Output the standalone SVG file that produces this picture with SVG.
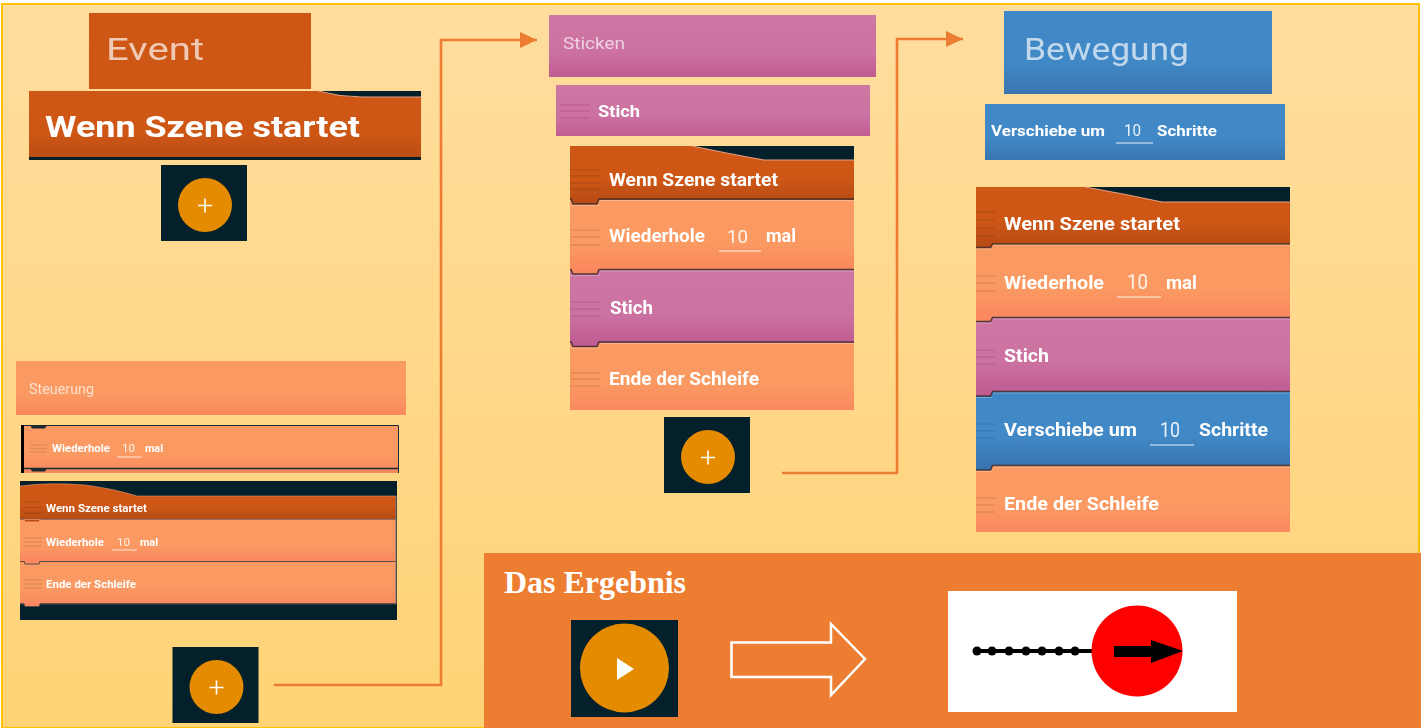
<svg xmlns="http://www.w3.org/2000/svg" width="1426" height="728" viewBox="0 0 1426 728">
<defs>
<linearGradient id="bg" x1="0" y1="0" x2="0" y2="1"><stop offset="0" stop-color="#FFDD9E"/><stop offset="1" stop-color="#FFD376"/></linearGradient>
<linearGradient id="or" x1="0" y1="0" x2="0" y2="1"><stop offset="0" stop-color="#FA9A62"/><stop offset=".6" stop-color="#FA9A62"/><stop offset="1" stop-color="#FA885E"/></linearGradient>
<linearGradient id="br" x1="0" y1="0" x2="0" y2="1"><stop offset="0" stop-color="#CF5716"/><stop offset=".6" stop-color="#CF5716"/><stop offset="1" stop-color="#B84C14"/></linearGradient>
<linearGradient id="pk" x1="0" y1="0" x2="0" y2="1"><stop offset="0" stop-color="#CE76A4"/><stop offset=".6" stop-color="#CC72A2"/><stop offset="1" stop-color="#C05C92"/></linearGradient>
<linearGradient id="bl" x1="0" y1="0" x2="0" y2="1"><stop offset="0" stop-color="#4189C6"/><stop offset=".6" stop-color="#4189C6"/><stop offset="1" stop-color="#3875B0"/></linearGradient>
<filter id="s" x="-5%" y="-20%" width="110%" height="140%"><feGaussianBlur stdDeviation="0.4"/></filter>
<filter id="s2" x="-5%" y="-5%" width="110%" height="110%"><feGaussianBlur stdDeviation="0.7"/></filter>
<g id="plus"><rect x="-44" y="-40" width="86" height="76" fill="#03202B"/><circle r="27" fill="#E58B00"/><path d="M-7 0.500H7M0 -6.500V7.500" stroke="#FFF" stroke-width="1.600" fill="none"/></g>
<marker id="ah" markerUnits="userSpaceOnUse" markerWidth="18" markerHeight="16" refX="17" refY="8" orient="auto"><path d="M0 0L17 8L0 16Z" fill="#ED7D31"/></marker>
</defs>
<style>
text{font-family:Roboto,"Liberation Sans",sans-serif;fill:#FFF;filter:url(#s)}
.b{font-weight:700}
.h{fill:#FFF;fill-opacity:.68}
.n{fill:#FFF;fill-opacity:.88}
.u{stroke:#FFF;stroke-opacity:.6;stroke-width:1.300;fill:none}
.g{stroke:#000;stroke-opacity:.1;stroke-width:1.300;fill:none}
.e{stroke:#3A2A2A;stroke-opacity:.85;stroke-width:1.500;fill:none}
.l{stroke:#FFF;stroke-opacity:.25;stroke-width:1;fill:none}
.c{stroke:#ED7D31;stroke-width:2.600;fill:none}
</style>
<rect x="2" y="4" width="1417" height="724" fill="url(#bg)" stroke="#FFC000" stroke-width="2"/>

<g id="connectors">
<path class="c" d="M274 685H441V40H537" marker-end="url(#ah)"/>
<path class="c" d="M782 473H897V39H963" marker-end="url(#ah)"/>
</g>

<g id="event-header"><rect x="89" y="13" width="222" height="76" fill="#CF5716"/><text class="h" x="106" y="60" font-size="32" textLength="98" lengthAdjust="spacingAndGlyphs">Event</text></g>
<g id="event-block">
<rect x="29" y="91" width="392" height="69" fill="url(#br)"/>
<path d="M318 91Q340 97 362 97H421V91Z" fill="#03202B"/>
<path d="M318 91Q340 97 362 97H421" stroke="#E8A080" fill="none"/>
<rect x="29" y="157" width="392" height="3" fill="#03202B"/>
<text class="b" x="45" y="137" font-size="30" textLength="315" lengthAdjust="spacingAndGlyphs">Wenn Szene startet</text>
</g>
<g id="add-event"><use href="#plus" x="205" y="205"/></g>

<g id="steuerung-header"><rect x="16" y="361" width="390" height="54" fill="url(#or)"/><text class="h" x="29" y="394" font-size="14" textLength="65" lengthAdjust="spacingAndGlyphs">Steuerung</text></g>
<g id="steuerung-block">
<rect x="24" y="425" width="374.500" height="48" fill="url(#or)"/>
<path d="M22.500 425V473" stroke="#000" stroke-width="3"/>
<path d="M24 425.500H398.500V473" stroke="#1A2A30" stroke-width="1" fill="none"/>
<path d="M24 468.500H398" stroke="#1A2A30" stroke-width="1.500" fill="none"/>
<path d="M30 425l2 3.500h13l2 -3.500zM30 468l2 3.500h13l2 -3.500z" fill="#1A2A30"/>
<path class="g" d="M30 445H47M30 448.500H47M30 452H47"/>
<text class="b" x="52" y="452" font-size="11" textLength="58" lengthAdjust="spacingAndGlyphs">Wiederhole</text>
<text class="n" x="122" y="452" font-size="11.500" textLength="13" lengthAdjust="spacingAndGlyphs">10</text>
<path class="u" d="M117 457H142"/>
<text class="b" x="145" y="452" font-size="11" textLength="18" lengthAdjust="spacingAndGlyphs">mal</text>
</g>
<g id="stack-small">
<rect x="20" y="481" width="377" height="139" fill="#03202B"/>
<path d="M20 486Q50 482 85 485Q115 489 137 496H396V519H20Z" fill="url(#br)"/>
<path d="M20 486Q50 482 85 485Q115 489 137 496H396" stroke="#E8A080" stroke-opacity=".55" fill="none"/>
<rect x="20" y="520" width="376" height="41" fill="url(#or)"/>
<rect x="20" y="562" width="376" height="41.500" fill="url(#or)"/>
<path d="M24 518h16l-1 3.500h-14z" fill="#B84C14"/>
<path d="M24 560h16l-1 3.500h-14z" fill="#FA885E"/>
<path d="M24 603h16l-1 3.500h-14z" fill="#FA885E"/>
<path d="M20 519.500H396" stroke="#F0A890" stroke-opacity=".6"/>
<path d="M20 561.500H24L25 564H39L40 561.500H396M20 604H24L25 606.500H39L40 604H396" stroke="#5A4A4A" stroke-width="1" fill="none"/>
<path d="M396 496V604" stroke="#8A7A70"/>
<path class="g" d="M24 502H42M24 507.500H42M24 513H42M24 538H42M24 542H42M24 546H42M24 580H42M24 584H42M24 588H42"/>
<text class="b" x="46" y="512" font-size="11" textLength="101" lengthAdjust="spacingAndGlyphs">Wenn Szene startet</text>
<text class="b" x="46" y="546" font-size="11" textLength="58" lengthAdjust="spacingAndGlyphs">Wiederhole</text>
<text class="n" x="117" y="546" font-size="11.500" textLength="13" lengthAdjust="spacingAndGlyphs">10</text>
<path class="u" d="M112 550H137"/>
<text class="b" x="140" y="546" font-size="11" textLength="18" lengthAdjust="spacingAndGlyphs">mal</text>
<text class="b" x="46" y="588" font-size="11" textLength="90" lengthAdjust="spacingAndGlyphs">Ende der Schleife</text>
</g>
<g id="add-steuerung"><use href="#plus" x="216.500" y="687"/></g>

<g id="sticken-header"><rect x="549" y="15" width="327" height="62" fill="url(#pk)"/><text class="h" x="563" y="49" font-size="17" textLength="62" lengthAdjust="spacingAndGlyphs">Sticken</text></g>
<g id="stich-block"><rect x="556" y="85" width="314" height="51" fill="url(#pk)"/><path d="M560 105H590M560 111H590M560 118H590" stroke="#A83A78" stroke-opacity=".45" fill="none"/><text class="b" x="598" y="117" font-size="17" textLength="42" lengthAdjust="spacingAndGlyphs">Stich</text></g>
<g id="stack-middle">
<rect x="570" y="146" width="284" height="15" fill="#03202B"/>
<path d="M570 146H692Q730 154 764 160H854V200H570Z" fill="url(#br)"/>
<path d="M692 146Q730 154 764 160H854" stroke="#E8A080" fill="none" stroke-width="1.200"/>
<rect x="570" y="200" width="284" height="70" fill="url(#or)"/>
<rect x="570" y="270" width="284" height="73" fill="url(#pk)"/>
<rect x="570" y="343" width="284" height="67" fill="url(#or)"/>
<path d="M571 199L573 204H597L599 199Z" fill="#B84C14"/>
<path d="M571 270L573 274H597L599 270Z" fill="#FA885E"/>
<path d="M571 342L573 347H597L599 342Z" fill="#C05C92"/>
<path class="e" d="M570 199H571L573 204H597L599 199H854M570 269.500H571L573 274H597L599 269.500H854M570 342H571L573 346.500H597L599 342H854"/>
<path class="l" d="M570 205.500H600M600 200.500H854M570 275.500H600M600 271H854M570 348H600M600 343.500H854"/>
<path class="g" d="M570 170H600M570 176H600M570 183H600M570 189H600M570 230H600M570 237H600M570 245H600M570 302H600M570 309H600M570 316H600M570 373H600M570 379H600M570 386H600"/>
<text class="b" x="609" y="186" font-size="18" textLength="169" lengthAdjust="spacingAndGlyphs">Wenn Szene startet</text>
<text class="b" x="609" y="242" font-size="18" textLength="96" lengthAdjust="spacingAndGlyphs">Wiederhole</text>
<text class="n" x="727" y="243" font-size="19" textLength="21" lengthAdjust="spacingAndGlyphs">10</text>
<path class="u" d="M719 251H761"/>
<text class="b" x="766" y="242" font-size="18" textLength="30" lengthAdjust="spacingAndGlyphs">mal</text>
<text class="b" x="610" y="314" font-size="18" textLength="43" lengthAdjust="spacingAndGlyphs">Stich</text>
<text class="b" x="609" y="385" font-size="18" textLength="150" lengthAdjust="spacingAndGlyphs">Ende der Schleife</text>
</g>
<g id="add-sticken"><use href="#plus" x="708" y="457"/></g>

<g id="bewegung-header"><rect x="1004" y="11" width="268" height="83" fill="url(#bl)"/><text class="h" x="1024" y="60" font-size="32" textLength="165" lengthAdjust="spacingAndGlyphs">Bewegung</text></g>
<g id="verschiebe-block"><rect x="985" y="104" width="300" height="56" fill="url(#bl)"/>
<text class="b" x="991" y="136" font-size="15" textLength="114" lengthAdjust="spacingAndGlyphs">Verschiebe um</text>
<text class="n" x="1124" y="136" font-size="16" textLength="17" lengthAdjust="spacingAndGlyphs">10</text>
<path class="u" d="M1116 143H1153"/>
<text class="b" x="1157" y="136" font-size="15" textLength="60" lengthAdjust="spacingAndGlyphs">Schritte</text></g>
<g id="stack-right">
<rect x="976" y="187" width="314" height="15" fill="#03202B"/>
<path d="M976 187H1085Q1125 194 1162 202H1290V244H976Z" fill="url(#br)"/>
<path d="M1085 187Q1125 194 1162 202H1290" stroke="#E8A080" fill="none" stroke-width="1.200"/>
<rect x="976" y="244" width="314" height="73" fill="url(#or)"/>
<rect x="976" y="317" width="314" height="74.500" fill="url(#pk)"/>
<rect x="976" y="391.500" width="314" height="74" fill="url(#bl)"/>
<rect x="976" y="465.500" width="314" height="66.500" fill="url(#or)"/>
<path d="M976 243H993L991 247.500H976Z" fill="#B84C14"/>
<path d="M976 317H993L991 321.500H976Z" fill="#FA885E"/>
<path d="M976 391H993L991 396H976Z" fill="#C05C92"/>
<path d="M976 465H993L991 470H976Z" fill="#3875B0"/>
<path class="e" d="M976 247.500H990.500L992.500 244H1290M976 321.500H990.500L992.500 317.500H1290M976 396H990.500L992.500 391.500H1290M976 470H990.500L992.500 465.500H1290"/>
<path class="l" d="M976 249H992M993 245H1290M976 323H992M993 319H1290M976 397.500H992M993 393H1290M976 471.500H992M993 467H1290"/>
<path class="g" d="M976 212H995M976 220H995M976 228H995M976 236H995M976 276H995M976 283H995M976 291H995M976 350H995M976 357H995M976 364H995M976 424H995M976 431H995M976 438H995M976 498H995M976 505H995M976 512H995"/>
<text class="b" x="1004" y="230" font-size="18.500" textLength="176" lengthAdjust="spacingAndGlyphs">Wenn Szene startet</text>
<text class="b" x="1004" y="289" font-size="18.500" textLength="100" lengthAdjust="spacingAndGlyphs">Wiederhole</text>
<text class="n" x="1127" y="289" font-size="20" textLength="21" lengthAdjust="spacingAndGlyphs">10</text>
<path class="u" d="M1117 297H1161"/>
<text class="b" x="1166" y="289" font-size="18.500" textLength="31" lengthAdjust="spacingAndGlyphs">mal</text>
<text class="b" x="1004" y="362" font-size="18.500" textLength="45" lengthAdjust="spacingAndGlyphs">Stich</text>
<text class="b" x="1004" y="436" font-size="18.500" textLength="133" lengthAdjust="spacingAndGlyphs">Verschiebe um</text>
<text class="n" x="1160" y="437" font-size="20" textLength="20" lengthAdjust="spacingAndGlyphs">10</text>
<path class="u" d="M1150 445H1194"/>
<text class="b" x="1199" y="436" font-size="18.500" textLength="69" lengthAdjust="spacingAndGlyphs">Schritte</text>
<text class="b" x="1004" y="510" font-size="18.500" textLength="155" lengthAdjust="spacingAndGlyphs">Ende der Schleife</text>
</g>

<g id="ergebnis">
<rect x="484" y="553" width="937" height="175" fill="#ED7D31"/>
<text x="504" y="593" font-size="32" font-weight="700" style="font-family:'Liberation Serif',serif;filter:none" textLength="182" lengthAdjust="spacingAndGlyphs">Das Ergebnis</text>
</g>
<g id="play"><rect x="571" y="620" width="107" height="97" fill="#03202B"/><circle cx="624.500" cy="668" r="44.500" fill="#E58B00"/><path d="M617 658L634 669L617 680Z" fill="#FFF"/></g>
<g id="result-arrow"><path d="M731.500 642.500H831V624L865 659L831 695V677H731.500Z" fill="none" stroke="#FFF" stroke-width="2.500"/></g>
<g id="result-picture">
<rect x="948" y="591" width="289" height="121" fill="#FFF"/>
<g filter="url(#s2)">
<path d="M977 651H1095" stroke="#000" stroke-width="4"/>
<g fill="#000"><circle cx="977" cy="651" r="4.500"/><circle cx="992" cy="651" r="4.500"/><circle cx="1009" cy="651" r="4.500"/><circle cx="1026" cy="651" r="4.500"/><circle cx="1042" cy="651" r="4.500"/><circle cx="1059" cy="651" r="4.500"/><circle cx="1075" cy="651" r="4.500"/></g>
<circle cx="1137" cy="651" r="45.500" fill="#F00"/>
<path d="M1114 646H1151V640L1183 651L1151 663V657H1114Z" fill="#000"/>
</g>
</g>
</svg>
